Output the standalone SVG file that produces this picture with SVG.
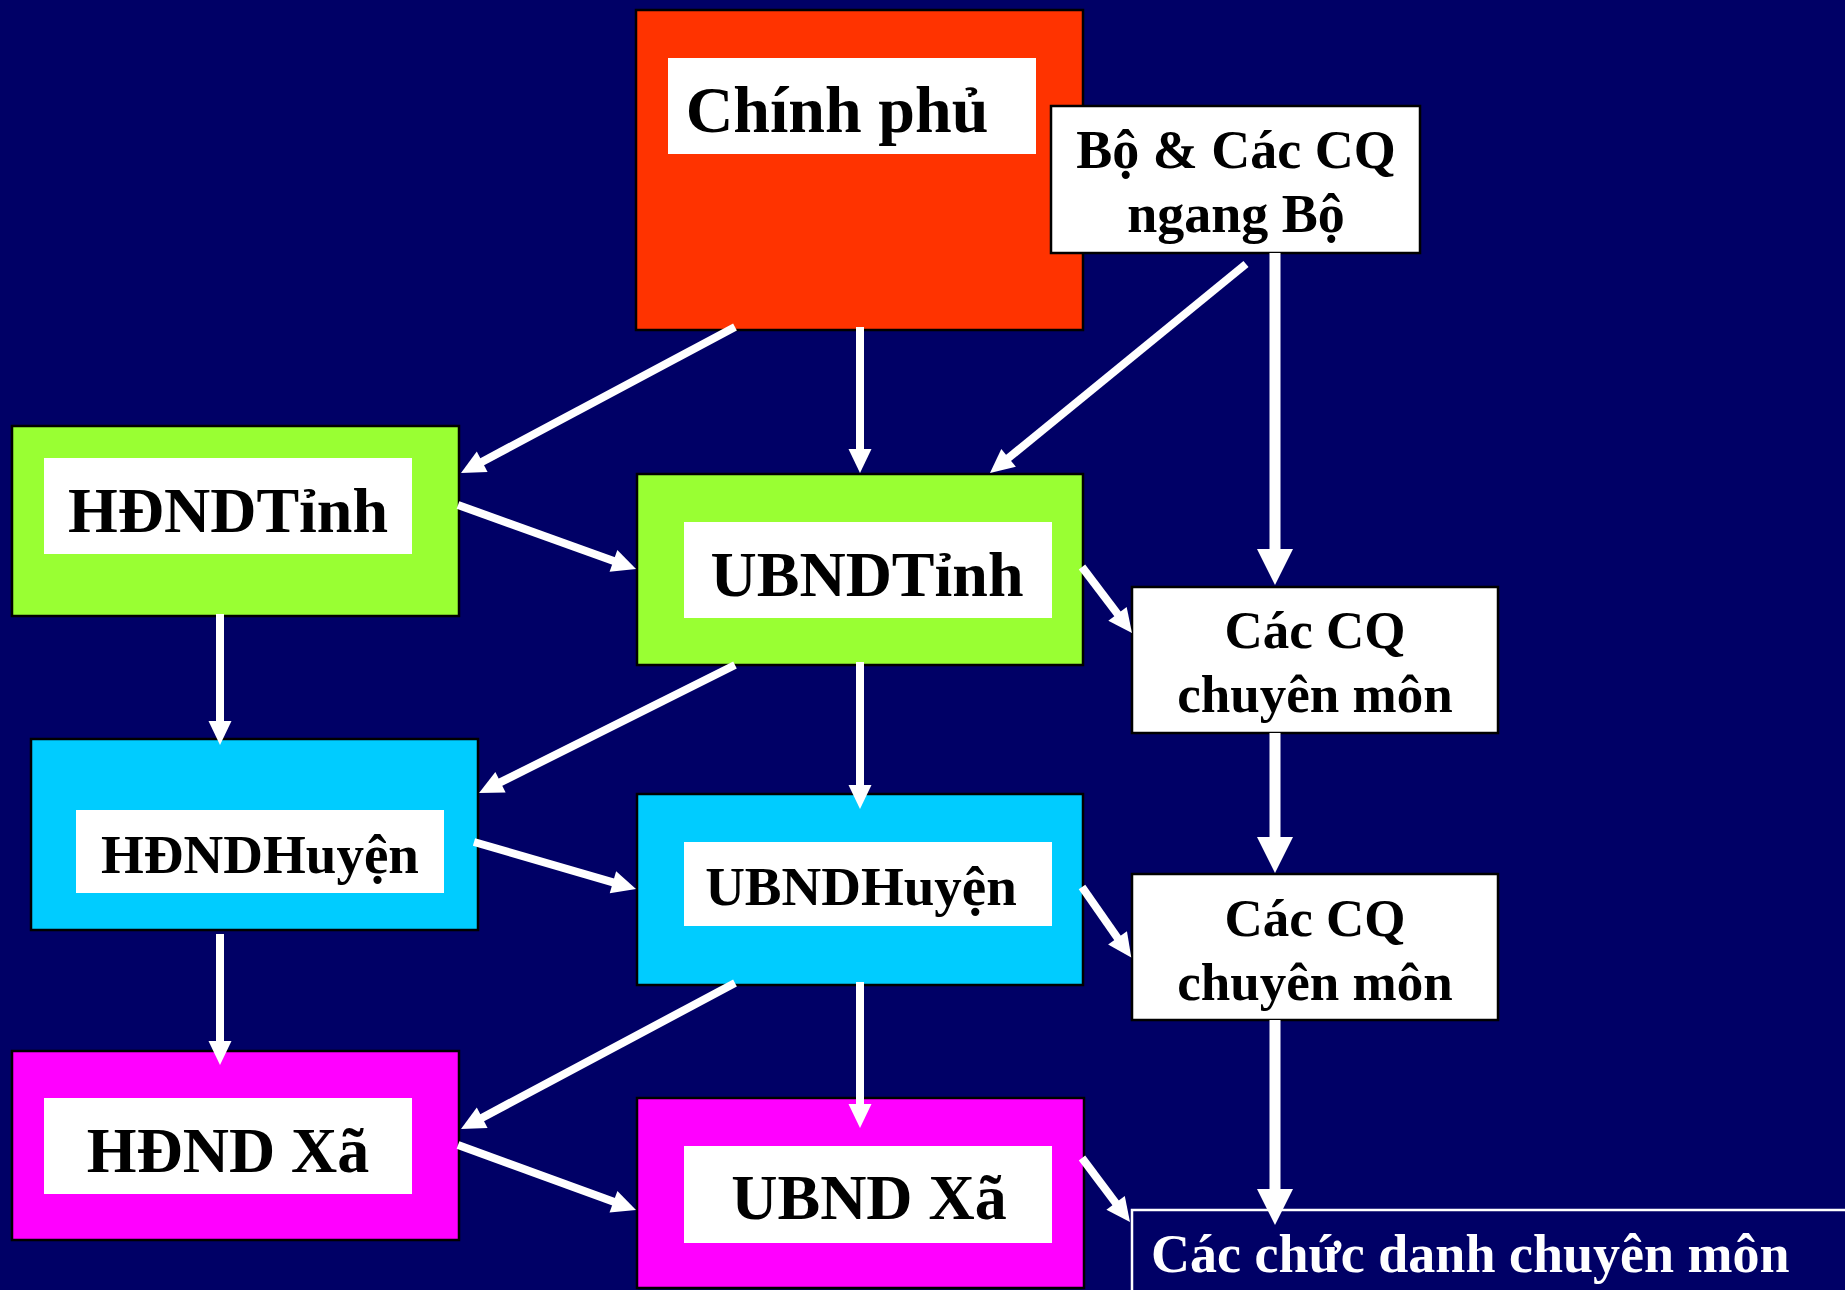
<svg xmlns="http://www.w3.org/2000/svg" width="1845" height="1290" viewBox="0 0 1845 1290">
<defs>
<style>
.box{stroke:#000;stroke-width:2.5}
.lbl{fill:#fff}
.t{font-family:"Liberation Serif","Times New Roman",serif;font-weight:bold;fill:#000;text-anchor:middle}
.c{fill:none;stroke:#fff;stroke-width:8}
.cb{fill:none;stroke:#fff;stroke-width:11}
.red{fill:#FF3300}.green{fill:#99FF33}.cyan{fill:#00CCFF}.mag{fill:#FF00FF}.white{fill:#fff}
</style>
<marker id="as" markerUnits="userSpaceOnUse" markerWidth="30" markerHeight="30" refX="1" refY="0" orient="auto" overflow="visible">
<path d="M0,-11.5 L24,0 L0,11.5 Z" fill="#fff"/>
</marker>
<marker id="ab" markerUnits="userSpaceOnUse" markerWidth="40" markerHeight="40" refX="1" refY="0" orient="auto" overflow="visible">
<path d="M0,-18 L36,0 L0,18 Z" fill="#fff"/>
</marker>
</defs>
<rect x="0" y="0" width="1845" height="1290" fill="#000066"/>

<g id="chinh-phu">
<rect class="box red" x="636" y="10" width="447" height="320"/>
<rect class="lbl" x="668" y="58" width="368" height="96"/>
<text class="t" x="837" y="132" font-size="66">Chính phủ</text>
</g>

<g id="bo">
<rect class="box white" x="1051" y="106" width="369" height="147"/>
<text class="t" x="1236" y="168" font-size="54">Bộ &amp; Các CQ</text>
<text class="t" x="1236" y="232" font-size="54">ngang Bộ</text>
</g>

<g id="hdnd-tinh">
<rect class="box green" x="12" y="426" width="447" height="190"/>
<rect class="lbl" x="44" y="458" width="368" height="96"/>
<text class="t" x="228" y="532" font-size="64">HĐNDTỉnh</text>
</g>

<g id="ubnd-tinh">
<rect class="box green" x="637" y="474" width="446" height="191"/>
<rect class="lbl" x="684" y="522" width="368" height="96"/>
<text class="t" x="867" y="596" font-size="64">UBNDTỉnh</text>
</g>

<g id="cq-tinh">
<rect class="box white" x="1132" y="587" width="366" height="146"/>
<text class="t" x="1315" y="648" font-size="53">Các CQ</text>
<text class="t" x="1315" y="712" font-size="53">chuyên môn</text>
</g>

<g id="hdnd-huyen">
<rect class="box cyan" x="31" y="739" width="447" height="191"/>
<rect class="lbl" x="76" y="810" width="368" height="83"/>
<text class="t" x="260" y="873" font-size="55">HĐNDHuyện</text>
</g>

<g id="ubnd-huyen">
<rect class="box cyan" x="637" y="794" width="446" height="191"/>
<rect class="lbl" x="684" y="842" width="368" height="84"/>
<text class="t" x="861" y="905" font-size="55">UBNDHuyện</text>
</g>

<g id="cq-huyen">
<rect class="box white" x="1132" y="874" width="366" height="146"/>
<text class="t" x="1315" y="936" font-size="53">Các CQ</text>
<text class="t" x="1315" y="1000" font-size="53">chuyên môn</text>
</g>

<g id="hdnd-xa">
<rect class="box mag" x="12" y="1051" width="447" height="189"/>
<rect class="lbl" x="44" y="1098" width="368" height="96"/>
<text class="t" x="228" y="1172" font-size="64">HĐND Xã</text>
</g>

<g id="ubnd-xa">
<rect class="box mag" x="637" y="1098" width="447" height="190"/>
<rect class="lbl" x="684" y="1146" width="368" height="97"/>
<text class="t" x="869" y="1219" font-size="64">UBND Xã</text>
</g>

<g id="chuc-danh">
<rect x="1132" y="1210" width="800" height="200" fill="#000066" stroke="#fff" stroke-width="2.5"/>
<text x="1151" y="1272" font-size="54" font-family="Liberation Serif, Times New Roman, serif" font-weight="bold" fill="#fff">Các chức danh chuyên môn</text>
</g>

<g id="connectors">
<line class="c" x1="735" y1="327" x2="481.3" y2="462.2" marker-end="url(#as)"/>
<line class="c" x1="860" y1="327" x2="860" y2="450" marker-end="url(#as)"/>
<line class="c" x1="1246" y1="264" x2="1007.8" y2="458.5" marker-end="url(#as)"/>
<line class="cb" x1="1275" y1="253" x2="1275" y2="550" marker-end="url(#ab)"/>
<line class="c" x1="458" y1="505" x2="614.4" y2="561.2" marker-end="url(#as)"/>
<line class="c" x1="1082" y1="567" x2="1118.1" y2="614.7" marker-end="url(#as)"/>
<line class="c" x1="220" y1="614" x2="220" y2="722" marker-end="url(#as)"/>
<line class="c" x1="735" y1="665" x2="499.6" y2="782.7" marker-end="url(#as)"/>
<line class="c" x1="860" y1="662" x2="860" y2="786" marker-end="url(#as)"/>
<line class="cb" x1="1275" y1="733" x2="1275" y2="838" marker-end="url(#ab)"/>
<line class="c" x1="474" y1="842" x2="613.9" y2="882.6" marker-end="url(#as)"/>
<line class="c" x1="1082" y1="887" x2="1118.1" y2="938.7" marker-end="url(#as)"/>
<line class="c" x1="220" y1="934" x2="220" y2="1042" marker-end="url(#as)"/>
<line class="c" x1="735" y1="983" x2="481.3" y2="1118.2" marker-end="url(#as)"/>
<line class="c" x1="860" y1="982" x2="860" y2="1105" marker-end="url(#as)"/>
<line class="c" x1="458" y1="1145" x2="614.4" y2="1202.1" marker-end="url(#as)"/>
<line class="c" x1="1082" y1="1158" x2="1116.2" y2="1203.6" marker-end="url(#as)"/>
<line class="cb" x1="1275" y1="1020" x2="1275" y2="1190" marker-end="url(#ab)"/>
</g>
</svg>
